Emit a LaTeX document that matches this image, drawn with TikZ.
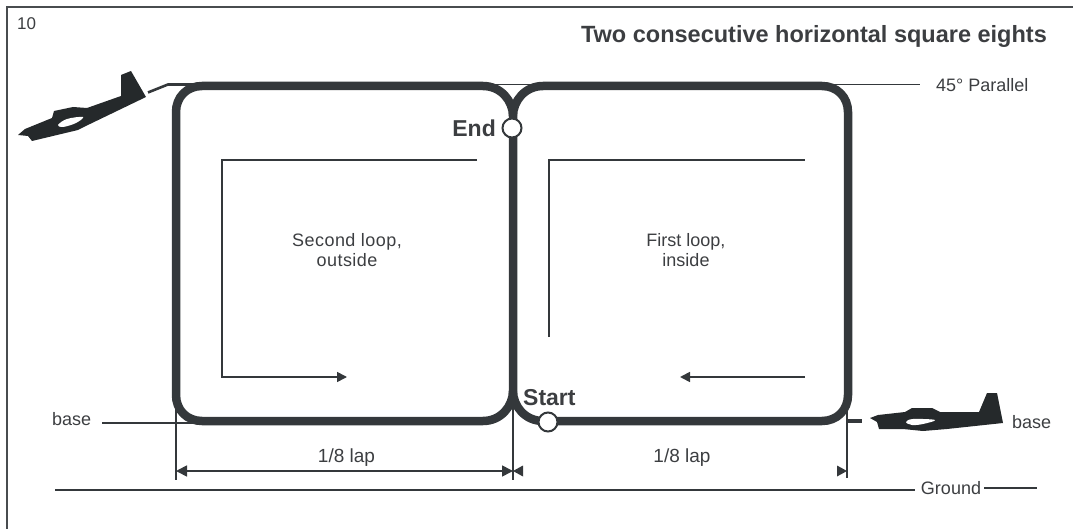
\documentclass[tikz,border=0pt]{standalone}
\usepackage{fontspec}
\setmainfont{Liberation Sans}
\usetikzlibrary{arrows.meta}
\definecolor{ink}{HTML}{34383B}
\definecolor{planeink}{HTML}{25292B}
\definecolor{txt}{HTML}{3C3E41}
\tikzset{
  x=1pt,y=-1pt,
  loopline/.style={draw=ink,line width=8.5pt,line cap=butt,line join=round},
  thinline/.style={draw=ink,line width=1.7pt},
  medline/.style={draw=ink,line width=2.6pt},
  frameline/.style={draw=ink!90,line width=2pt},
  mark tip/.style={-{Triangle[length=10pt,width=10pt]}},
  lbl/.style={text=txt,font=\fontsize{18}{20}\selectfont,inner sep=0pt,align=center},
  boldlbl/.style={text=txt,font=\fontsize{23}{26}\selectfont\bfseries,inner sep=0pt},
  marker/.style={circle,draw=ink,fill=white,line width=2pt,minimum size=19pt,inner sep=0pt},
  planebody/.style={fill=planeink,draw=none},
  planewin/.style={fill=white,draw=none}
}
\begin{document}
\begin{tikzpicture}
\useasboundingbox (0,0) rectangle (1073,529);
% frame
\coordinate (fbl) at (7,529);
\coordinate (ftl) at (7,7);
\coordinate (ftr) at (1073,7);
\draw[frameline] (fbl) -- (ftl) -- (ftr);
% named points
\coordinate (tj) at (513,116);
\coordinate (bj) at (513,391);
% thin 45 deg parallel
\coordinate (pl) at (168,84.5);
\coordinate (pr) at (920,84.5);
\draw[thinline,line width=1.2pt] (pl) -- (pr);
% entry line
\coordinate (ent) at (148,92.5);
\draw[medline] (ent) -- (pl) -- (194,84.5);
% loops
\draw[loopline] (tj) .. controls (513,101) and (501,86) .. (483,86) -- (202,86)
  .. controls (187,86) and (176,97) .. (176,112) -- (176,395)
  .. controls (176,410) and (187,421) .. (202,421) -- (483,421)
  .. controls (501,421) and (513,406) .. (513,391);
\draw[loopline] (bj) .. controls (513,406) and (525,421) .. (543,421) -- (822,421)
  .. controls (837,421) and (848,410) .. (848,395) -- (848,112)
  .. controls (848,97) and (837,86) .. (822,86) -- (543,86)
  .. controls (525,86) and (513,101) .. (513,116) -- cycle;
% base lines
\coordinate (bl) at (102,423);
\draw[thinline] (bl) -- (198,423);
\coordinate (brA) at (846,421);
\coordinate (brB) at (862,421);
\draw[medline,line width=3.5pt] (brA) -- (brB);
% dimension lines
\coordinate (dl) at (176,400);
\coordinate (dlb) at (176,480);
\coordinate (dm) at (513,400);
\coordinate (dmb) at (513,480);
\coordinate (dr) at (847,402);
\coordinate (drb) at (847,478);
\draw[thinline] (dl) -- (dlb);
\draw[thinline] (dm) -- (dmb);
\draw[thinline] (dr) -- (drb);
\coordinate (al) at (176,471);
\coordinate (am) at (513,471);
\coordinate (ar) at (847,471);
\draw[thinline,{Triangle[length=11pt,width=11pt]}-{Triangle[length=11pt,width=11pt]}] (al) -- (am);
\fill[ink] (am) -- (523,465.5) -- (523,476.5) -- cycle;
\fill[ink] (ar) -- (837,465.5) -- (837,476.5) -- cycle;
% ground
\node[lbl,anchor=center] (ground) at (951,488) {Ground};
\coordinate (gl) at (55,490);
\coordinate (gr) at (1037,488);
\draw[medline] (gl) -- (915,490);
\draw[medline] (984,488) -- (gr);
% inner arrows
\coordinate (s1) at (477,160);
\coordinate (s2) at (222,160);
\coordinate (s3) at (222,377);
\coordinate (s4) at (347,377);
\draw[thinline,mark tip] (s1) -- (s2) -- (s3) -- (s4);
\coordinate (f1) at (549,337);
\coordinate (f2) at (549,160);
\coordinate (f3) at (805,160);
\draw[thinline] (f1) -- (f2) -- (f3);
\coordinate (f4) at (805,377);
\coordinate (f5) at (680,377);
\draw[thinline,mark tip] (f4) -- (f5);
% markers
\node[marker] (endm) at (512,128) {};
\node[marker] (startm) at (548,422) {};
% planes
\path[planebody] (18,135) -- (25,129) -- (52,118) -- (54,111) -- (73,107) -- (87,108) -- (121,96) -- (121,75) -- (131,71) -- (146,97) -- (90,124) -- (78,130) -- (32,141) -- (28,136) -- cycle;
\path[planewin] plot[smooth cycle,tension=.6] coordinates {(58,125) (67,119) (83,117) (76,123) (63,127)};
\path[planebody] (870,418) -- (878,415) -- (905,412) -- (912,408) -- (932,408) -- (940,412) -- (979,412) -- (987,393) -- (997,393) -- (1003,423) -- (947,429) -- (923,431) -- (903,429) -- (879,429) -- (877,422) -- cycle;
\path[planewin] plot[smooth cycle,tension=.6] coordinates {(906,422) (913,419) (935,420) (923,424) (912,425)};
% labels
\node[lbl,anchor=west,font=\fontsize{17}{20}\selectfont] (num) at (17,24) {10};
\node[boldlbl,anchor=east,font=\fontsize{23.5}{26}\selectfont\bfseries] (title) at (1047,36) {Two consecutive horizontal square eights};
\node[lbl,anchor=west] (par) at (936,85) {45° Parallel};
\node[boldlbl,anchor=east] (endl) at (496,128) {End};
\node[boldlbl,anchor=west] (startl) at (523,398) {Start};
\node[lbl] (second) at (347,250) {\addfontfeature{LetterSpace=2.5}Second loop,\\\addfontfeature{LetterSpace=2.5}outside};
\node[lbl] (first) at (686,250) {First loop,\\inside};
\node[lbl,anchor=west] (basel) at (52,419) {base};
\node[lbl,anchor=west] (baser) at (1012,422) {base};
\node[lbl,font=\fontsize{19}{20}\selectfont] (lapl) at (346.5,458) {1/8 lap};
\node[lbl,font=\fontsize{19}{20}\selectfont] (lapr) at (682,458) {1/8 lap};
\end{tikzpicture}
\end{document}
